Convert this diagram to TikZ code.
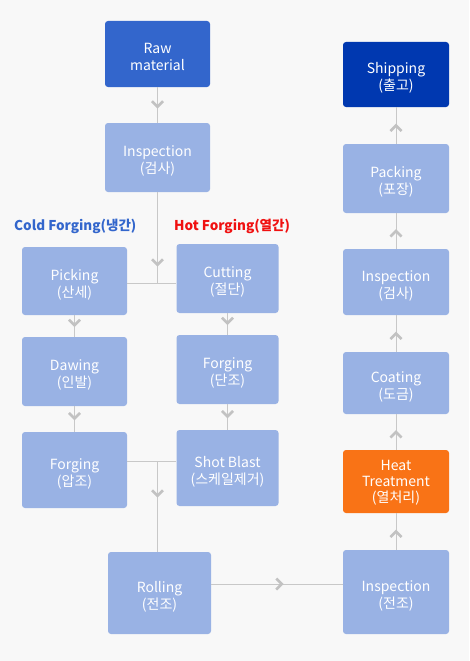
\documentclass[tikz,border=0pt]{standalone}
\usepackage{fontspec}
\setmainfont{Noto Sans CJK KR}
\usetikzlibrary{arrows.meta,decorations.markings}
\definecolor{bgc}{HTML}{F8F8F8}
\definecolor{lightbox}{HTML}{99B2E4}
\definecolor{rawc}{HTML}{3366CC}
\definecolor{shipc}{HTML}{0038B0}
\definecolor{heatc}{HTML}{F97316}
\definecolor{linec}{HTML}{C8C8C8}
\definecolor{chevc}{HTML}{C2C2C2}
\definecolor{coldc}{HTML}{3366CC}
\definecolor{hotc}{HTML}{F01010}
\newcommand{\boxfont}{\fontsize{14}{17}\selectfont}
\newcommand{\lblfont}{\fontsize{13.5}{17}\selectfont\bfseries}
\newcommand{\bx}[2][8pt]{\raisebox{-#1}[0pt][0pt]{\begin{tabular}{@{}c@{}}#2\end{tabular}}}
\begin{document}
\begin{tikzpicture}[x=1pt,y=-1pt,
  proc/.style={rounded corners=3pt, fill=lightbox, text=white, align=center,
    font=\boxfont, inner sep=0pt},
  link/.style={draw=linec, line width=1pt},
  flow/.style={link, postaction={decorate}, decoration={markings,
    mark=at position #1 with {\arrow{Straight Barb[length=5.5pt,width=11pt,line width=2.6pt,color=chevc]}}}},
  flow/.default=0.55]
\useasboundingbox (0,0) rectangle (469,661);
\fill[bgc] (0,0) rectangle (469,661);
% left / middle
\node[proc, fill=rawc, minimum width=105pt, minimum height=66pt] (raw) at (157.5,54) {\bx{Raw\\material}};
\node[proc, minimum width=105pt, minimum height=69pt] (insp1) at (157.5,157.5) {\bx{Inspection\\(검사)}};
\node[proc, minimum width=105pt, minimum height=68pt] (pick) at (74.5,281) {\bx{Picking\\(산세)}};
\node[proc, minimum width=102pt, minimum height=69pt] (cut) at (227.5,278.5) {\bx{Cutting\\(절단)}};
\node[proc, minimum width=105pt, minimum height=69pt] (daw) at (74.5,371.5) {\bx{Dawing\\(인발)}};
\node[proc, minimum width=102pt, minimum height=69pt] (forg2) at (227.5,369.5) {\bx{Forging\\(단조)}};
\node[proc, minimum width=105pt, minimum height=76pt] (forg1) at (74.5,470) {\bx{Forging\\(압조)}};
\node[proc, minimum width=102pt, minimum height=76pt] (shot) at (227.5,468) {\bx{Shot Blast\\(스케일제거)}};
\node[proc, minimum width=103pt, minimum height=82pt] (roll) at (159.5,593) {\bx{Rolling\\(전조)}};
% right column
\node[proc, minimum width=106pt, minimum height=84pt] (insp3) at (396,592) {\bx{Inspection\\(전조)}};
\node[proc, fill=heatc, minimum width=106pt, minimum height=63pt, font=\fontsize{14}{15.5}\selectfont] (heat) at (396,481.5) {\bx[5.5pt]{Heat\\Treatment\\(열처리)}};
\node[proc, minimum width=106pt, minimum height=62pt] (coat) at (396,383) {\bx{Coating\\(도금)}};
\node[proc, minimum width=106pt, minimum height=66pt] (insp2) at (396,282) {\bx{Inspection\\(검사)}};
\node[proc, minimum width=106pt, minimum height=69pt] (pack) at (396,178.5) {\bx{Packing\\(포장)}};
\node[proc, fill=shipc, minimum width=106pt, minimum height=65pt] (ship) at (396,74.5) {\bx{Shipping\\(출고)}};
% labels
\node[font=\lblfont, text=coldc, anchor=west, inner sep=0pt] (coldlbl) at (14,226) {Cold Forging(냉간)};
\node[font=\lblfont, text=hotc, anchor=west, inner sep=0pt] (hotlbl) at (174,226) {Hot Forging(열간)};
% connectors
\coordinate (j1) at (157.5,283);
\coordinate (j2) at (157.5,461.5);
\draw[flow=0.6] (raw) -- (insp1);
\draw[flow=0.82] (insp1) -- (j1);
\draw[link] (pick.east |- j1) -- (cut.west |- j1);
\draw[flow] (pick) -- (daw);
\draw[flow] (daw) -- (forg1);
\draw[flow] (cut) -- (forg2);
\draw[flow] (forg2) -- (shot);
\draw[link] (forg1.east |- j2) -- (shot.west |- j2);
\draw[flow=0.4] (j2) -- (j2 |- roll.north);
\draw[flow] ([yshift=9pt]roll.east) -- ([yshift=9pt]roll.east -| insp3.west);
\draw[flow] (insp3) -- (heat);
\draw[flow] (heat) -- (coat);
\draw[flow] (coat) -- (insp2);
\draw[flow] (insp2) -- (pack);
\draw[flow] (pack) -- (ship);
\end{tikzpicture}
\end{document}
